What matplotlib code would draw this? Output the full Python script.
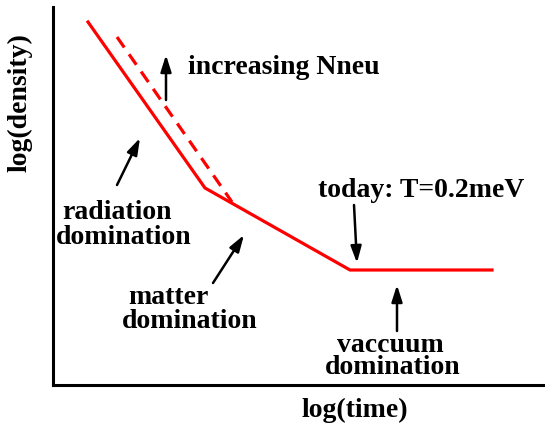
import matplotlib
matplotlib.use('Agg')
import matplotlib.pyplot as plt

# Schematic: log(density) vs log(time), arbitrary units
log_time = [88, 205, 350, 492]
log_density = [402, 236, 154, 154]
nneu_time = [117, 232]
nneu_density = [387, 222]

plt.rcParams['font.family'] = ['Liberation Serif', 'DejaVu Serif']
plt.rcParams['font.weight'] = 'bold'
fs = 20

fig = plt.figure(figsize=(5.45, 4.24), dpi=100)
ax = fig.add_axes([53/545, 39/424, 492/545, 378/424])
ax.set_xlim(53, 545)
ax.set_ylim(39, 417)

ax.plot(log_time, log_density, '-', color='#ff0000', lw=2.3, solid_joinstyle='miter')
ax.plot(nneu_time, nneu_density, '--', color='#ff0000', lw=2.3, dashes=(4, 2.6))

for s in ['top', 'right']:
    ax.spines[s].set_visible(False)
for s in ['left', 'bottom']:
    ax.spines[s].set_linewidth(2.2)
ax.set_xticks([])
ax.set_yticks([])

ax.text(20, 321, 'log(density)', rotation=90, ha='center', va='center',
        fontsize=fs, fontweight='bold', clip_on=False)
ax.text(355, 14, 'log(time)', ha='center', va='center',
        fontsize=fs, fontweight='bold', clip_on=False)

ap = dict(arrowstyle='-|>,head_length=1.0,head_width=0.32', color='black', lw=1.8,
          shrinkA=0, shrinkB=0)

ax.text(188, 357, 'increasing Nneu', ha='left', va='center', fontsize=fs, fontweight='bold')
ax.annotate('', xy=(166, 369), xytext=(166, 324), arrowprops=ap)

ax.text(117, 424 - 212, 'radiation', ha='center', va='center', fontsize=fs, fontweight='bold')
ax.text(124, 424 - 237, 'domination', ha='center', va='center', fontsize=fs, fontweight='bold')
ax.annotate('', xy=(140, 424 - 138), xytext=(117, 424 - 185), arrowprops=ap)

ax.text(168, 424 - 297, 'matter', ha='center', va='center', fontsize=fs, fontweight='bold')
ax.text(190, 424 - 322, 'domination', ha='center', va='center', fontsize=fs, fontweight='bold')
ax.annotate('', xy=(244, 424 - 235), xytext=(213, 424 - 283), arrowprops=ap)

ax.text(421, 424 - 190, 'today: T=0.2meV', ha='center', va='center', fontsize=fs, fontweight='bold')
ax.annotate('', xy=(357, 424 - 263), xytext=(354, 424 - 205), arrowprops=ap)

ax.annotate('', xy=(397, 424 - 285), xytext=(397, 424 - 331), arrowprops=ap)
ax.text(390, 424 - 345, 'vaccuum', ha='center', va='center', fontsize=fs, fontweight='bold')
ax.text(393, 424 - 368, 'domination', ha='center', va='center', fontsize=fs, fontweight='bold')

fig.savefig('out.png', dpi=100)
